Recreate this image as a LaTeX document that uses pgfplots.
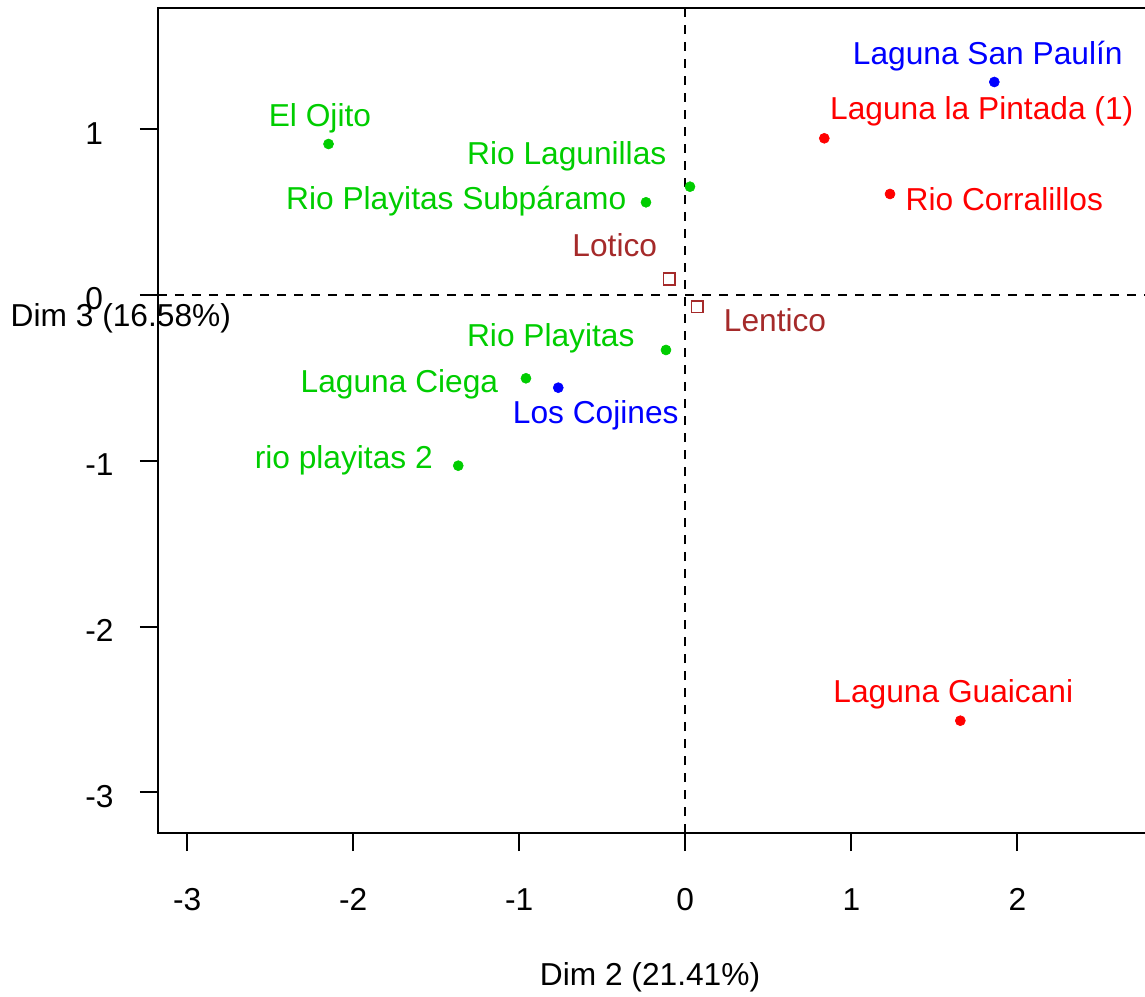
\documentclass[border=0pt]{standalone}
\usepackage{fontspec}
\setmainfont{Liberation Sans}
\usepackage{pgfplots}
\pgfplotsset{compat=1.18}
\definecolor{ptgreen}{RGB}{0,205,0}
\definecolor{ptred}{RGB}{255,0,0}
\definecolor{ptblue}{RGB}{0,0,255}
\definecolor{ptbrown}{RGB}{165,42,42}

\begin{document}
\begin{tikzpicture}[font=\fontsize{15.85pt}{19pt}\selectfont]
\begin{axis}[
  scale only axis, width=494.5pt, height=412.5pt,
  xmin=-3.176, xmax=2.781, ymin=-3.245, ymax=1.731,
  axis line style={line width=1pt},
  xtick={-3,-2,-1,0,1,2}, ytick={-3,-2,-1,0,1},
  xticklabels={-3,-2,-1,0,1,2}, yticklabels={-3,-2,-1,0,1},
  xtick pos=bottom, ytick pos=left,
  tick align=outside, major tick length=9pt,
  tick style={line width=1pt, black},
  xticklabel style={anchor=base, inner sep=0pt, yshift=-29.5pt},
  yticklabel style={anchor=base west, inner sep=0pt, xshift=-27.5pt, yshift=-7.5pt},
  every axis x label/.style={at={(rel axis cs:0.4975,0)}, anchor=base, inner sep=0pt, yshift=-76pt},
  every axis y label/.style={at={(rel axis cs:-0.0376,0.6137)}, anchor=base, inner sep=0pt},
  xlabel={Dim 2 (21.41\%)},
  ylabel={Dim 3 (16.58\%)},
  clip=false,
]
% reference lines through the origin
\draw[line width=1pt, dash pattern=on 4.5pt off 4pt] (axis cs:0,-3.245) -- (axis cs:0,1.731);
\draw[line width=1pt, dash pattern=on 4.5pt off 4pt] (axis cs:-3.176,0) -- (axis cs:2.781,0);

% individuals, coloured by group
\addplot[only marks, mark=*, mark size=2.5pt, mark options={fill=ptgreen, draw=ptgreen, line width=0.3pt}]
  coordinates {(-2.1488,0.9107) (0.0283,0.6532) (-0.2367,0.5591) (-0.1163,-0.3317) (-0.9596,-0.5024) (-1.3675,-1.0296)};
\addplot[only marks, mark=*, mark size=2.5pt, mark options={fill=ptred, draw=ptred, line width=0.3pt}]
  coordinates {(0.8373,0.9451) (1.2331,0.6092) (1.6566,-2.5676)};
\addplot[only marks, mark=*, mark size=2.5pt, mark options={fill=ptblue, draw=ptblue, line width=0.3pt}]
  coordinates {(1.8614,1.2847) (-0.7651,-0.5591)};
% supplementary categories
\addplot[only marks, mark=square, mark size=2.9pt, mark options={draw=ptbrown, line width=0.8pt}]
  coordinates {(-0.0964,0.0965) (0.0723,-0.0706)};

\begin{scope}[every node/.style={anchor=base, inner sep=0pt}]
\node[text=ptgreen] at (axis cs:-2.2006,1.0133) {El Ojito};
\node[text=ptgreen] at (axis cs:-0.7139,0.7841) {Rio Lagunillas};
\node[text=ptgreen] at (axis cs:-1.3795,0.5127) {Rio Playitas Subpáramo};
\node[text=ptgreen] at (axis cs:-0.8102,-0.3118) {Rio Playitas};
\node[text=ptgreen] at (axis cs:-1.7217,-0.5869) {Laguna Ciega};
\node[text=ptgreen] at (axis cs:-2.0572,-1.0452) {rio playitas 2};
\node[text=ptred] at (axis cs:1.7855,1.0555) {Laguna la Pintada (1)};
\node[text=ptred] at (axis cs:1.9217,0.5084) {Rio Corralillos};
\node[text=ptred] at (axis cs:1.6145,-2.4566) {Laguna Guaicani};
\node[text=ptblue] at (axis cs:1.8217,1.3872) {Laguna San Paulín};
\node[text=ptblue] at (axis cs:-0.5392,-0.7780) {Los Cojines};
\node[text=ptbrown] at (axis cs:-0.4247,0.2310) {Lotico};
\node[text=ptbrown] at (axis cs:0.5404,-0.2214) {Lentico};
\end{scope}
\end{axis}
\pgfresetboundingbox
\path[use as bounding box] (-79pt,-81.5pt) rectangle (493.5pt,416.5pt);
\end{tikzpicture}
\end{document}
